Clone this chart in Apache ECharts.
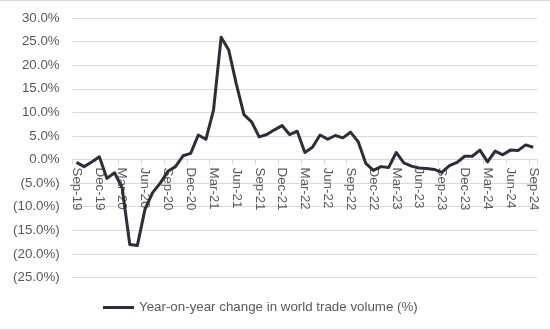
<!DOCTYPE html>
<html>
<head>
<meta charset="utf-8">
<script src="https://cdn.jsdelivr.net/npm/echarts@6/dist/echarts.min.js"></script>
<style>
html,body{margin:0;padding:0;background:#fff;}
#chart{width:550px;height:330px;}
</style>
</head>
<body>
<div id="chart"></div>
<script>
var categories = [
  "Sep-19","Oct-19","Nov-19","Dec-19","Jan-20","Feb-20","Mar-20","Apr-20","May-20","Jun-20","Jul-20","Aug-20",
  "Sep-20","Oct-20","Nov-20","Dec-20","Jan-21","Feb-21","Mar-21","Apr-21","May-21","Jun-21","Jul-21","Aug-21",
  "Sep-21","Oct-21","Nov-21","Dec-21","Jan-22","Feb-22","Mar-22","Apr-22","May-22","Jun-22","Jul-22","Aug-22",
  "Sep-22","Oct-22","Nov-22","Dec-22","Jan-23","Feb-23","Mar-23","Apr-23","May-23","Jun-23","Jul-23","Aug-23",
  "Sep-23","Oct-23","Nov-23","Dec-23","Jan-24","Feb-24","Mar-24","Apr-24","May-24","Jun-24","Jul-24","Aug-24",
  "Sep-24"
];
var tradeVolumeYoY = [
  -0.6, -1.5, -0.5, 0.6, -4.0, -2.8, -6.0, -18.0, -18.2, -10.5, -7.0, -5.0,
  -2.5, -1.5, 0.8, 1.3, 5.2, 4.3, 10.5, 25.9, 23.2, 16.0, 9.5, 8.0,
  4.8, 5.3, 6.3, 7.2, 5.3, 6.0, 1.5, 2.6, 5.2, 4.3, 5.1, 4.6,
  5.8, 3.8, -0.8, -2.3, -1.5, -1.7, 1.5, -0.7, -1.4, -1.8, -1.9, -2.1,
  -2.7, -1.3, -0.6, 0.7, 0.7, 2.0, -0.5, 1.8, 1.0, 2.0, 1.9, 3.1,
  2.6
];
var seriesName = "Year-on-year change in world trade volume (%)";

var yMin = -25, yMax = 30;
var gridTop = 18, gridBottom = 52.5, chartH = 330;
var plotH = chartH - gridTop - gridBottom;
var zeroOffset = -plotH * (0 - yMin) / (yMax - yMin);

var chart = echarts.init(document.getElementById('chart'), null, {renderer:'canvas'});
var font = 'Liberation Sans, Arial, sans-serif';
var fs = 13.33;
chart.setOption({
  animation: false,
  backgroundColor: '#ffffff',
  grid: {left: 72.7, right: 13, top: gridTop, bottom: gridBottom, containLabel: false},
  xAxis: {
    type: 'category',
    data: categories,
    boundaryGap: true,
    position: 'bottom',
    offset: zeroOffset,
    axisLine: {onZero: false, lineStyle: {color: '#d9d9d9', width: 1}},
    axisTick: {show: true, interval: 2, length: 5, lineStyle: {color: '#d9d9d9'}},
    axisLabel: {interval: 2, rotate: -90, margin: 8, color: '#595959', fontSize: fs, fontFamily: font},
    splitLine: {show: false}
  },
  yAxis: {
    type: 'value',
    min: yMin, max: yMax, interval: 5,
    axisLine: {show: false},
    axisTick: {show: false},
    axisLabel: {
      margin: 13, color: '#595959', fontSize: fs, fontFamily: font,
      formatter: function(v){ return v < 0 ? '(' + Math.abs(v).toFixed(1) + '%)' : v.toFixed(1) + '%'; }
    },
    splitLine: {show: true, lineStyle: {color: '#d9d9d9', width: 1}}
  },
  legend: {
    show: true,
    left: 103, top: 301,
    padding: 0,
    icon: 'rect',
    itemWidth: 31, itemHeight: 3,
    itemStyle: {color: '#2e2e38'},
    textStyle: {color: '#595959', fontSize: fs, fontFamily: font},
    data: [seriesName]
  },
  graphic: [
    {type: 'line', shape: {x1: 0, y1: 0.5, x2: 550, y2: 0.5}, style: {stroke: '#d9d9d9', lineWidth: 1}, silent: true},
    {type: 'line', shape: {x1: 0, y1: 329.5, x2: 550, y2: 329.5}, style: {stroke: '#d9d9d9', lineWidth: 1}, silent: true}
  ],
  series: [{
    name: seriesName,
    type: 'line',
    data: tradeVolumeYoY,
    symbol: 'none',
    showSymbol: false,
    lineStyle: {color: '#2e2e38', width: 3, join: 'round'},
    itemStyle: {color: '#2e2e38'}
  }]
});
</script>
</body>
</html>
